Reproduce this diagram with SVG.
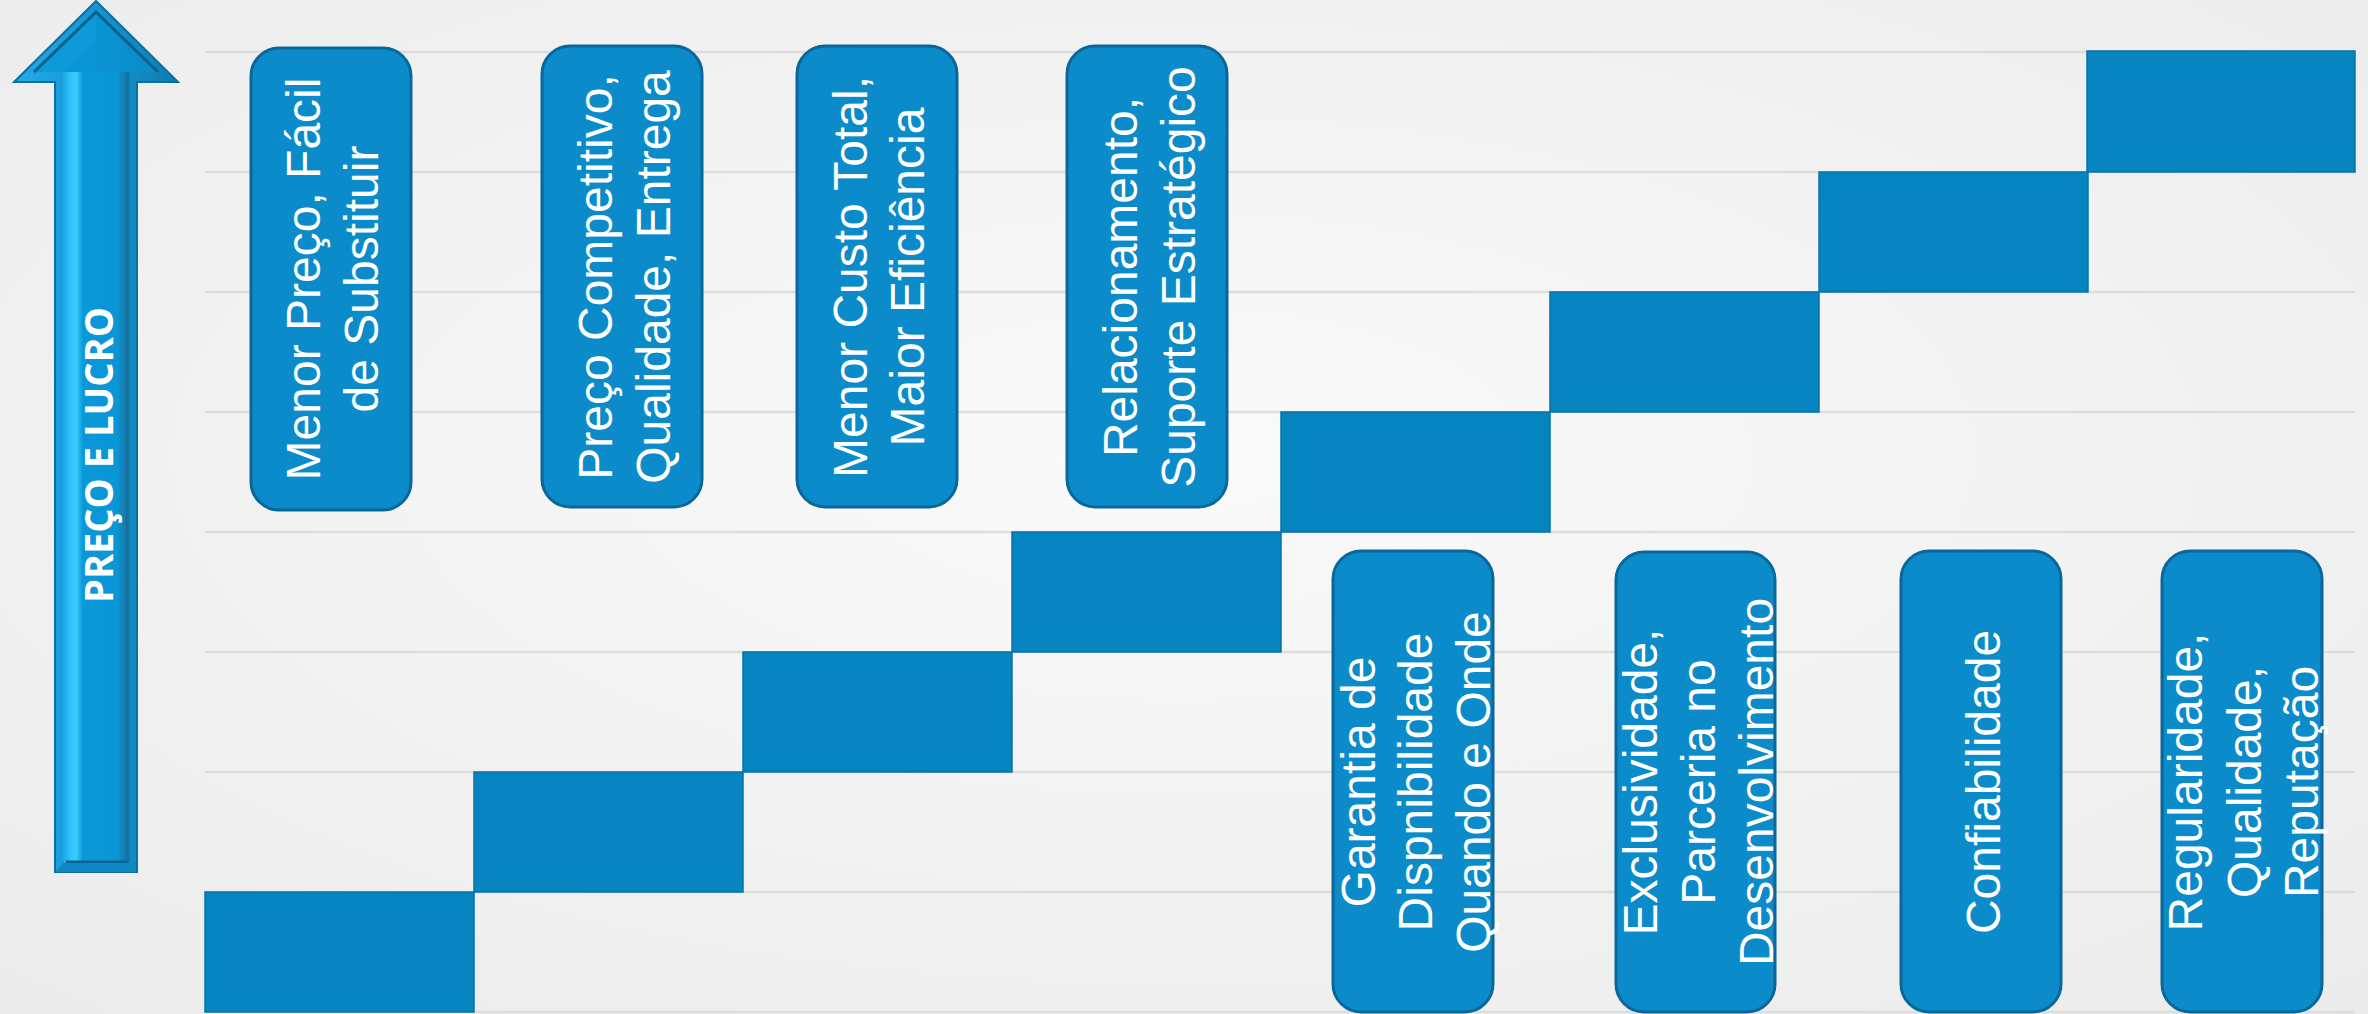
<svg xmlns="http://www.w3.org/2000/svg" width="2368" height="1014" viewBox="0 0 2368 1014">
<defs>
<radialGradient id="bg" cx="0.5" cy="0.45" r="0.75">
<stop offset="0" stop-color="#fafafa"/>
<stop offset="1" stop-color="#ebebeb"/>
</radialGradient>
<linearGradient id="shaft" x1="0" y1="0" x2="1" y2="0">
<stop offset="0" stop-color="#1aa6e6"/>
<stop offset="0.1" stop-color="#2fbff8"/>
<stop offset="0.2" stop-color="#3dcbff"/>
<stop offset="0.3" stop-color="#0a98d8"/>
<stop offset="0.82" stop-color="#0896d6"/>
<stop offset="0.95" stop-color="#1779a8"/>
<stop offset="1" stop-color="#1a6d98"/>
</linearGradient>
<linearGradient id="rim" x1="0" y1="0" x2="1" y2="0">
<stop offset="0" stop-color="#22aaea"/>
<stop offset="0.5" stop-color="#1396d4"/>
<stop offset="1" stop-color="#0f7cb0"/>
</linearGradient>
<linearGradient id="head" x1="0" y1="0" x2="1" y2="0">
<stop offset="0" stop-color="#0c96d6"/>
<stop offset="0.5" stop-color="#0a94d4"/>
<stop offset="1" stop-color="#0a8cc8"/>
</linearGradient>
<style>
.grid{stroke:#dddddd;stroke-width:2.5;fill:none}
.step{fill:#0584bf;stroke:#0673a8;stroke-width:1.5}
.box{fill:#0b8bca;stroke:#0a6799;stroke-width:3}
.lbl{font-family:"Liberation Sans",Arial,sans-serif;font-size:48px;fill:#ffffff;text-anchor:middle}
.axis{font-family:"Open Sans","Noto Sans",sans-serif;font-weight:bold;font-size:40px;fill:#ffffff;text-anchor:middle}
</style>
</defs>
<rect x="0" y="0" width="2368" height="1014" fill="url(#bg)"/>

<g id="grid">
<line class="grid" x1="205" y1="52" x2="2355" y2="52"/>
<line class="grid" x1="205" y1="172" x2="2355" y2="172"/>
<line class="grid" x1="205" y1="292" x2="2355" y2="292"/>
<line class="grid" x1="205" y1="412" x2="2355" y2="412"/>
<line class="grid" x1="205" y1="532" x2="2355" y2="532"/>
<line class="grid" x1="205" y1="652" x2="2355" y2="652"/>
<line class="grid" x1="205" y1="772" x2="2355" y2="772"/>
<line class="grid" x1="205" y1="892" x2="2355" y2="892"/>
<line class="grid" x1="205" y1="1012" x2="2355" y2="1012"/>
</g>

<g id="steps">
<rect class="step" x="205" y="892" width="269" height="120"/>
<rect class="step" x="474" y="772" width="269" height="120"/>
<rect class="step" x="743" y="652" width="269" height="120"/>
<rect class="step" x="1012" y="532" width="269" height="120"/>
<rect class="step" x="1281" y="412" width="269" height="120"/>
<rect class="step" x="1550" y="292" width="269" height="120"/>
<rect class="step" x="1819" y="172" width="269" height="120"/>
<rect class="step" x="2087" y="51" width="268" height="121"/>
</g>

<g id="axis-arrow">
<polygon points="96,1 178,82 137,82 137,872 55,872 55,82 14,82" fill="url(#rim)" stroke="#0d6f9f" stroke-width="2" stroke-linejoin="miter"/>
<polygon points="63,72 129,72 129,863 63,863" fill="url(#shaft)"/>
<polygon points="96,12 158,72 34,72" fill="url(#head)"/>
<polygon points="96,12 96,40 62,72 34,72" fill="#0e9ad8"/>
<polyline points="34,72 96,12 158,72" fill="none" stroke="#0b5f8a" stroke-width="3" stroke-linejoin="miter"/>
<line x1="66" y1="862" x2="128" y2="862" stroke="#0b6591" stroke-width="3"/>
<line x1="128" y1="74" x2="128" y2="862" stroke="#13709f" stroke-width="3"/>
<polygon points="63,863 129,863 137,872 55,872" fill="#1186c0"/>
<text class="axis" transform="translate(113,455) rotate(-90)" x="0" y="0" textLength="296" lengthAdjust="spacingAndGlyphs">PREÇO E LUCRO</text>
</g>

<g id="node1">
<rect class="box" x="251" y="48" width="160" height="462" rx="28"/>
<text class="lbl" transform="translate(320,279) rotate(-90)"><tspan x="0" y="0">Menor Preço, Fácil</tspan><tspan x="0" y="58">de Substituir</tspan></text>
</g>
<g id="node2">
<rect class="box" x="542" y="46" width="160" height="461" rx="28"/>
<text class="lbl" transform="translate(612,277) rotate(-90)"><tspan x="0" y="0">Preço Competitivo,</tspan><tspan x="0" y="58">Qualidade, Entrega</tspan></text>
</g>
<g id="node3">
<rect class="box" x="797" y="46" width="160" height="461" rx="28"/>
<text class="lbl" transform="translate(867,277) rotate(-90)"><tspan x="0" y="0">Menor Custo Total,</tspan><tspan x="0" y="57">Maior Eficiência</tspan></text>
</g>
<g id="node4">
<rect class="box" x="1067" y="46" width="160" height="461" rx="28"/>
<text class="lbl" transform="translate(1137,277) rotate(-90)"><tspan x="0" y="0">Relacionamento,</tspan><tspan x="0" y="58">Suporte Estratégico</tspan></text>
</g>

<g id="node5">
<rect class="box" x="1333" y="551" width="160" height="461" rx="28"/>
<text class="lbl" transform="translate(1375,782) rotate(-90)"><tspan x="0" y="0">Garantia de</tspan><tspan x="0" y="57">Dispnibilidade</tspan><tspan x="0" y="115">Quando e Onde</tspan></text>
</g>
<g id="node6">
<rect class="box" x="1616" y="552" width="159" height="460" rx="28"/>
<text class="lbl" transform="translate(1657,782) rotate(-90)"><tspan x="0" y="0">Exclusividade,</tspan><tspan x="0" y="58">Parceria no</tspan><tspan x="0" y="116">Desenvolvimento</tspan></text>
</g>
<g id="node7">
<rect class="box" x="1901" y="551" width="160" height="461" rx="28"/>
<text class="lbl" transform="translate(2000,782) rotate(-90)"><tspan x="0" y="0">Confiabilidade</tspan></text>
</g>
<g id="node8">
<rect class="box" x="2162" y="551" width="160" height="461" rx="28"/>
<text class="lbl" transform="translate(2202,782) rotate(-90)"><tspan x="0" y="0">Regularidade,</tspan><tspan x="0" y="59">Qualidade,</tspan><tspan x="0" y="116">Reputação</tspan></text>
</g>
</svg>
